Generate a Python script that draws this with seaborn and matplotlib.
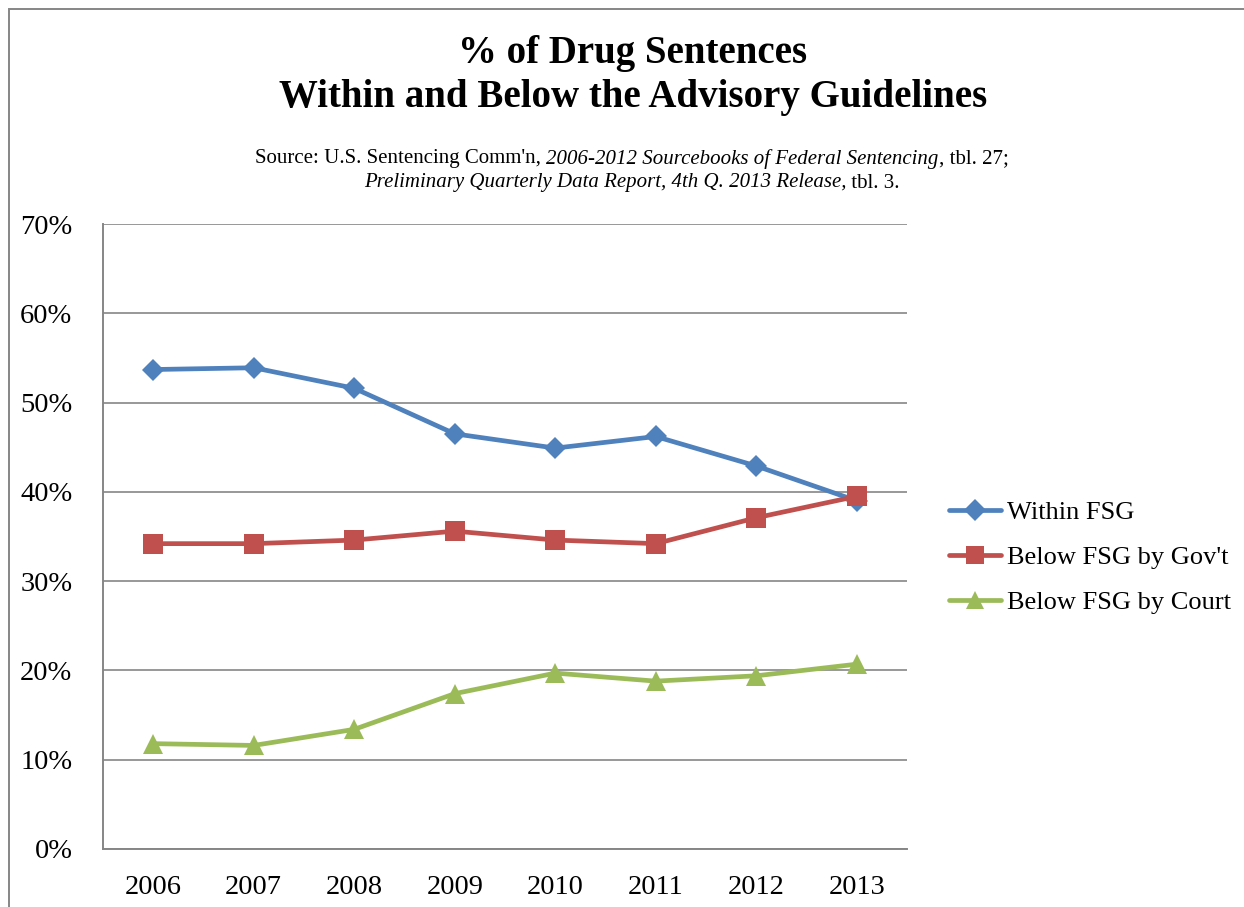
import matplotlib
matplotlib.use("Agg")
import matplotlib.pyplot as plt
import seaborn as sns
import pandas as pd
from matplotlib.lines import Line2D
from matplotlib.patches import Rectangle

years = ["2006", "2007", "2008", "2009", "2010", "2011", "2012", "2013"]
within_fsg = [53.7, 53.9, 51.6, 46.5, 44.9, 46.2, 42.9, 39.0]
below_gov = [34.2, 34.2, 34.6, 35.6, 34.6, 34.2, 37.1, 39.5]
below_court = [11.8, 11.6, 13.4, 17.4, 19.7, 18.8, 19.4, 20.7]
series_names = ["Within FSG", "Below FSG by Gov't", "Below FSG by Court"]
y_ticks = [0, 10, 20, 30, 40, 50, 60, 70]

colors = {"Within FSG": "#4F81BD", "Below FSG by Gov't": "#C0504D", "Below FSG by Court": "#9BBB59"}
markers = {"Within FSG": "D", "Below FSG by Gov't": "s", "Below FSG by Court": "^"}
msizes = {"Within FSG": 11.5, "Below FSG by Gov't": 14, "Below FSG by Court": 14}

rows = []
for name, vals in zip(series_names, [within_fsg, below_gov, below_court]):
    for i, (yr, v) in enumerate(zip(years, vals)):
        rows.append({"idx": i, "year": yr, "series": name, "value": v})
df = pd.DataFrame(rows)

sns.set_theme(style="white")
FONT = ["Liberation Serif", "DejaVu Serif"]
plt.rcParams["font.family"] = FONT
plt.rcParams["text.color"] = "black"
plt.rcParams["xtick.color"] = "black"
plt.rcParams["ytick.color"] = "black"
plt.rcParams["axes.labelcolor"] = "black"

fig = plt.figure(figsize=(12.44, 9.07), dpi=100)
W, H = 1244, 907
ax = fig.add_axes([103 / W, 1 - 849 / H, (907 - 103) / W, (849 - 224) / H])

sns.lineplot(data=df, x="idx", y="value", hue="series", palette=colors,
             style="series", markers=markers, dashes=False, ax=ax,
             linewidth=3.4, legend=False, sort=False)
for line, name in zip(ax.get_lines(), series_names):
    line.set_markersize(msizes[name])
    line.set_markeredgewidth(0)
    line.set_solid_capstyle("round")

ax.set_xlim(-0.5, 7.5)
ax.set_ylim(0, 70)
ax.set_xticks(range(len(years)))
ax.set_xticklabels(years, fontsize=20.5, color="black")
ax.set_yticks(y_ticks)
ax.set_yticklabels([f"{t}%" for t in y_ticks], fontsize=20.5, color="black")
ax.tick_params(axis="both", length=0, labelcolor="black")
ax.tick_params(axis="y", pad=22)
ax.tick_params(axis="x", pad=19)
ax.set_xlabel("")
ax.set_ylabel("")
ax.yaxis.grid(True, color="#868686", linewidth=1.2)
ax.set_axisbelow(True)
for s in ["top", "right"]:
    ax.spines[s].set_visible(False)
for s in ["left", "bottom"]:
    ax.spines[s].set_color("#868686")
    ax.spines[s].set_linewidth(1.4)

# Legend
handles = [Line2D([0], [0], color=colors[n], marker=markers[n], markersize=msizes[n] * 0.95,
                  markeredgewidth=0, linewidth=3.4) for n in series_names]
leg = fig.legend(handles, series_names, loc="upper left", bbox_to_anchor=(938 / W, 1 - 490 / H),
                 frameon=False, fontsize=19, handlelength=2.0, handletextpad=0.2,
                 labelspacing=0.82, borderaxespad=0)
for t in leg.get_texts():
    t.set_color("black")

# Title
fig.text(633 / W, 1 - 54 / H, "% of Drug Sentences", ha="center", va="center",
         fontsize=28, fontweight="bold", color="black")
fig.text(633 / W, 1 - 98 / H, "Within and Below the Advisory Guidelines", ha="center",
         va="center", fontsize=28, fontweight="bold", color="black")

# Subtitle with mixed italic
def mixed_line(parts, yc, cx, size=15):
    fig.canvas.draw()
    r = fig.canvas.get_renderer()
    texts = []
    for s, style in parts:
        t = fig.text(0, yc, s, fontsize=size, style=style, va="center", ha="left", color="black")
        texts.append(t)
    widths = [t.get_window_extent(renderer=r).width for t in texts]
    total = sum(widths)
    x = cx * W - total / 2
    for t, w in zip(texts, widths):
        t.set_x(x / W)
        x += w

mixed_line([("Source: U.S. Sentencing Comm'n, ", "normal"),
            ("2006-2012 Sourcebooks of Federal Sentencing", "italic"),
            (", tbl. 27;", "normal")], 1 - 159 / H, 632 / W)
mixed_line([("Preliminary Quarterly Data Report, 4th Q. 2013 Release,", "italic"),
            (" tbl. 3.", "normal")], 1 - 183 / H, 632 / W)

# outer chart border
fig.patches.append(Rectangle((9 / W, -0.05), 1.2, 1 - 9 / H + 0.05, transform=fig.transFigure,
                             fill=False, edgecolor="#868686", linewidth=1.4, figure=fig))

fig.savefig("out.png", dpi=100)
